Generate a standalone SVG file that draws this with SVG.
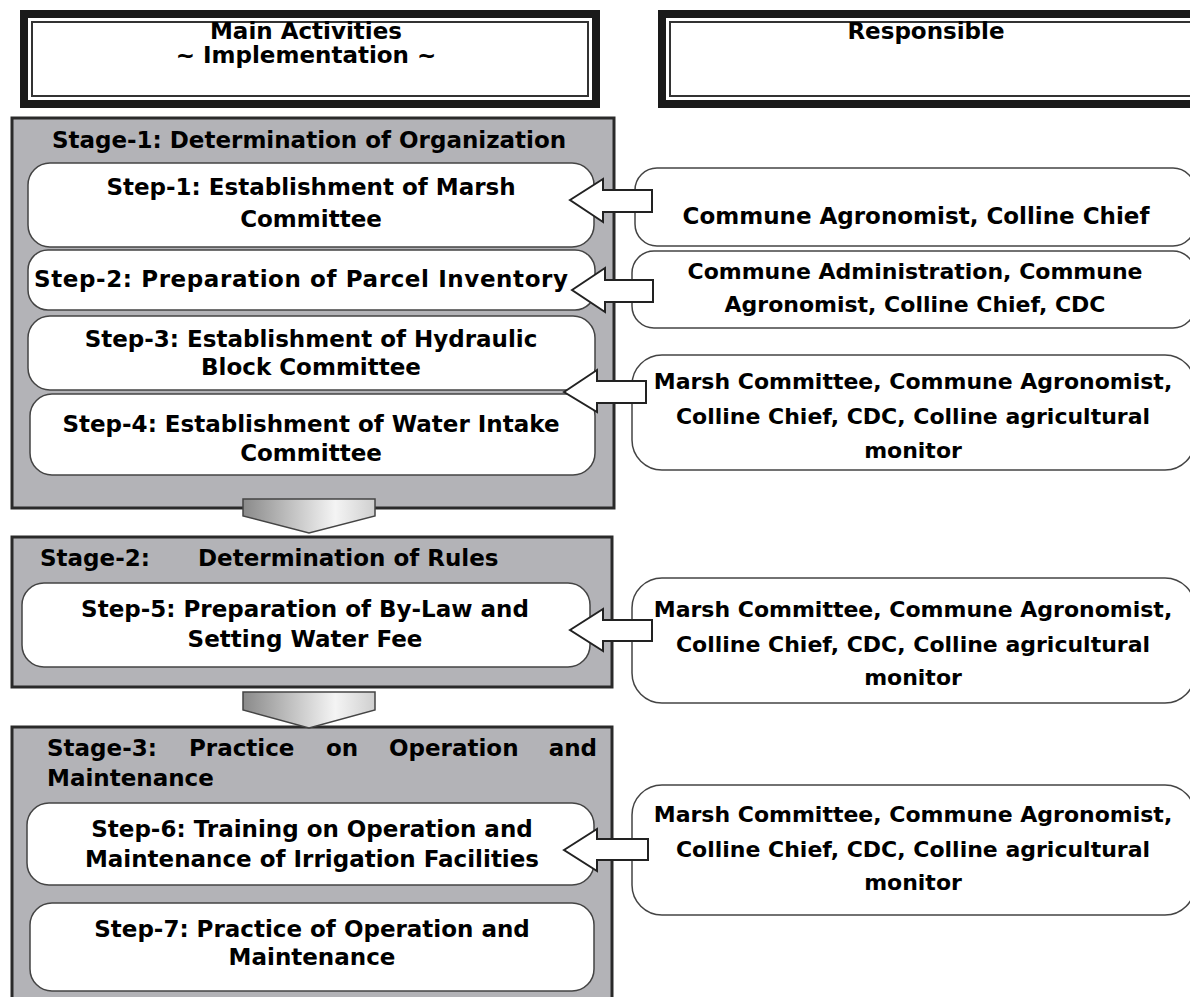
<svg xmlns="http://www.w3.org/2000/svg" width="1190" height="997" viewBox="0 0 1190 997">
  <defs>
    <linearGradient id="chevGrad" x1="0" y1="0" x2="1" y2="0">
      <stop offset="0" stop-color="#8a8a8a"/>
      <stop offset="0.7" stop-color="#f4f4f4"/>
      <stop offset="1" stop-color="#cfcfcf"/>
    </linearGradient>
    <style>
      .t { font-family: "DejaVu Sans", "Liberation Sans", sans-serif; font-weight: 700; font-size: 23px; fill: #000; text-anchor: middle; }
      .r { font-size: 22px; }
      .l { text-anchor: start; }
      .e { text-anchor: end; }
      .frame { fill: #fff; stroke: #1a1a1a; stroke-width: 8; }
      .inner { fill: none; stroke: #333; stroke-width: 2; }
      .stage { fill: #b3b3b7; stroke: #2a2a2a; stroke-width: 3; }
      .step { fill: #fff; stroke: #444; stroke-width: 1.5; }
      .resp { fill: #fff; stroke: #444; stroke-width: 1.5; }
      .arrow { fill: #fff; stroke: #222; stroke-width: 2; stroke-linejoin: miter; }
      .chev { fill: url(#chevGrad); stroke: #444; stroke-width: 1.5; }
    </style>
  </defs>

  <!-- column headers -->
  <g id="header-activities">
    <rect class="frame" x="24" y="14" width="572" height="90"/>
    <rect class="inner" x="32" y="22" width="556" height="74"/>
    <text class="t" x="306" y="39">Main Activities</text>
    <text class="t" x="306" y="63">~ Implementation ~</text>
  </g>
  <g id="header-responsible">
    <rect class="frame" x="662" y="14" width="560" height="90"/>
    <rect class="inner" x="670" y="22" width="544" height="74"/>
    <text class="t" x="926" y="39">Responsible</text>
  </g>

  <!-- stage containers -->
  <g id="stage-1">
    <rect class="stage" x="12" y="118" width="602" height="390"/>
    <text class="t" x="309" y="148">Stage-1: Determination of Organization</text>
  </g>
  <g id="stage-2">
    <rect class="stage" x="12" y="537" width="600" height="150"/>
    <text class="t l" x="40" y="566">Stage-2:</text>
    <text class="t l" x="198" y="566">Determination of Rules</text>
  </g>
  <g id="stage-3">
    <rect class="stage" x="12" y="727" width="600" height="290"/>
    <text class="t l" x="47" y="756">Stage-3:</text>
    <text class="t l" x="189" y="756">Practice</text>
    <text class="t l" x="326" y="756">on</text>
    <text class="t l" x="389" y="756">Operation</text>
    <text class="t e" x="597" y="756">and</text>
    <text class="t l" x="47" y="786">Maintenance</text>
  </g>

  <!-- steps -->
  <g id="step-1">
    <rect class="step" x="28" y="163" width="566" height="84" rx="22"/>
    <text class="t" x="311" y="195">Step-1: Establishment of Marsh</text>
    <text class="t" x="311" y="227">Committee</text>
  </g>
  <g id="step-2">
    <rect class="step" x="28" y="250" width="567" height="60" rx="20"/>
    <text class="t" x="301" y="287" textLength="534">Step-2: Preparation of Parcel Inventory</text>
  </g>
  <g id="step-3">
    <rect class="step" x="28" y="316" width="567" height="74" rx="22"/>
    <text class="t" x="311" y="347">Step-3: Establishment of Hydraulic</text>
    <text class="t" x="311" y="375">Block Committee</text>
  </g>
  <g id="step-4">
    <rect class="step" x="30" y="394" width="565" height="81" rx="22"/>
    <text class="t" x="311" y="432">Step-4: Establishment of Water Intake</text>
    <text class="t" x="311" y="461">Committee</text>
  </g>
  <g id="step-5">
    <rect class="step" x="22" y="583" width="568" height="84" rx="22"/>
    <text class="t" x="305" y="617">Step-5: Preparation of By-Law and</text>
    <text class="t" x="305" y="647">Setting Water Fee</text>
  </g>
  <g id="step-6">
    <rect class="step" x="27" y="803" width="567" height="82" rx="22"/>
    <text class="t" x="312" y="837">Step-6: Training on Operation and</text>
    <text class="t" x="312" y="867">Maintenance of Irrigation Facilities</text>
  </g>
  <g id="step-7">
    <rect class="step" x="30" y="903" width="564" height="88" rx="22"/>
    <text class="t" x="312" y="937">Step-7: Practice of Operation and</text>
    <text class="t" x="312" y="965">Maintenance</text>
  </g>

  <!-- responsible parties -->
  <g id="resp-1">
    <rect class="resp" x="635" y="168" width="560" height="78" rx="22"/>
    <text class="t" x="916" y="224">Commune Agronomist, Colline Chief</text>
  </g>
  <g id="resp-2">
    <rect class="resp" x="632" y="251" width="563" height="77" rx="22"/>
    <text class="t r" x="915" y="279">Commune Administration, Commune</text>
    <text class="t r" x="915" y="312">Agronomist, Colline Chief, CDC</text>
  </g>
  <g id="resp-3">
    <rect class="resp" x="632" y="355" width="563" height="115" rx="30"/>
    <text class="t r" x="913" y="389">Marsh Committee, Commune Agronomist,</text>
    <text class="t r" x="913" y="424">Colline Chief, CDC, Colline agricultural</text>
    <text class="t r" x="913" y="458">monitor</text>
  </g>
  <g id="resp-4">
    <rect class="resp" x="632" y="578" width="563" height="125" rx="30"/>
    <text class="t r" x="913" y="617">Marsh Committee, Commune Agronomist,</text>
    <text class="t r" x="913" y="652">Colline Chief, CDC, Colline agricultural</text>
    <text class="t r" x="913" y="685">monitor</text>
  </g>
  <g id="resp-5">
    <rect class="resp" x="632" y="785" width="563" height="130" rx="30"/>
    <text class="t r" x="913" y="822">Marsh Committee, Commune Agronomist,</text>
    <text class="t r" x="913" y="857">Colline Chief, CDC, Colline agricultural</text>
    <text class="t r" x="913" y="890">monitor</text>
  </g>

  <!-- connectors: stage transitions and responsibility arrows -->
  <g id="connectors">
    <polygon class="chev" points="243,499 375,499 375,516 309,533 243,516"/>
    <polygon class="chev" points="243,692 375,692 375,710 309,728 243,710"/>
    <polygon class="arrow" points="570,200 603,179 603,190 652,190 652,212 603,212 603,222"/>
    <polygon class="arrow" points="572,290 605,268 605,280 653,280 653,302 605,302 605,312"/>
    <polygon class="arrow" points="564,392 597,370 597,381 646,381 646,403 597,403 597,412"/>
    <polygon class="arrow" points="570,630 603,609 603,620 652,620 652,641 603,641 603,651"/>
    <polygon class="arrow" points="564,850 597,829 597,839 648,839 648,860 597,860 597,871"/>
  </g>
</svg>
